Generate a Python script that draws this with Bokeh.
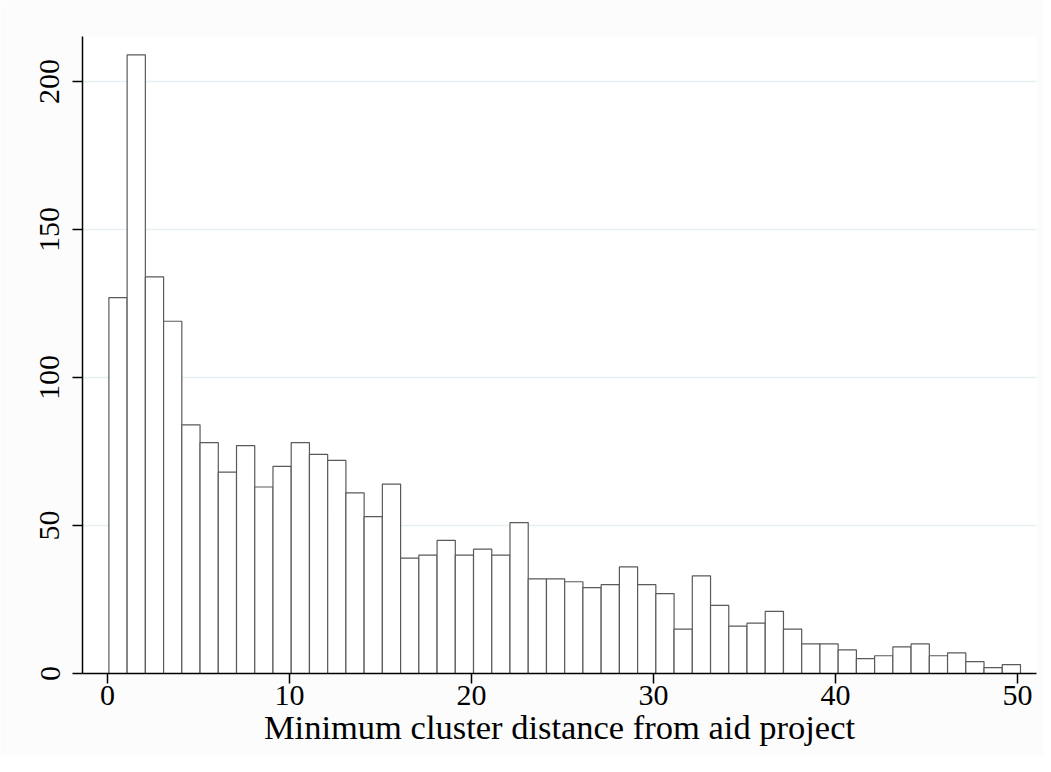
from bokeh.plotting import figure
from bokeh.models import Range1d, FixedTicker
from bokeh.embed import file_html
from bokeh.resources import INLINE

# Histogram counts (50 bins)
counts = [127, 209, 134, 119, 84, 78, 68, 77, 63, 70,
          78, 74, 72, 61, 53, 64, 39, 40, 45, 40,
          42, 40, 51, 32, 32, 31, 29, 30, 36, 30,
          27, 15, 33, 23, 16, 17, 21, 15, 10, 10,
          8, 5, 6, 9, 10, 6, 7, 4, 2, 3]
bin_start = 0.08
bin_width = 1.0016
x_ticks = [0, 10, 20, 30, 40, 50]
y_ticks = [0, 50, 100, 150, 200]
x_title = "Minimum cluster distance from aid project"

lefts = [bin_start + i * bin_width for i in range(len(counts))]
rights = [l + bin_width for l in lefts]
bottoms = [0] * len(counts)

FONT = "Liberation Serif"

p = figure(frame_width=954, frame_height=637,
           x_range=Range1d(-1.37, 51.04), y_range=Range1d(0, 215.2),
           output_backend="svg", toolbar_location=None,
           min_border_left=82, min_border_top=36, min_border_right=7, min_border_bottom=83)
p.background_fill_color = "white"
p.border_fill_color = "#FCFCFC"
p.outline_line_color = None

p.quad(left=lefts, right=rights, bottom=bottoms, top=counts,
       fill_color="white", line_color="#5a5a5a", line_width=1.2)

p.xgrid.visible = False
p.ygrid.ticker = FixedTicker(ticks=y_ticks[1:])
p.ygrid.grid_line_color = "#E6EFF1"
p.ygrid.grid_line_width = 1.5

p.xaxis.ticker = FixedTicker(ticks=x_ticks)
p.yaxis.ticker = FixedTicker(ticks=y_ticks)
for ax in (p.xaxis[0], p.yaxis[0]):
    ax.axis_line_color = "black"
    ax.axis_line_width = 1.5
    ax.major_tick_line_color = "black"
    ax.major_tick_line_width = 1.5
    ax.major_tick_out = 10
    ax.major_tick_in = 0
    ax.minor_tick_line_color = None
    ax.major_label_text_font = FONT
    ax.major_label_text_font_size = "30px"
    ax.major_label_text_color = "black"

p.yaxis.major_label_orientation = "vertical"
p.yaxis.major_label_standoff = 13
p.xaxis.major_label_standoff = 2

p.xaxis.axis_label = x_title
p.xaxis.axis_label_text_font = FONT
p.xaxis.axis_label_text_font_style = "normal"
p.xaxis.axis_label_text_font_size = "34.5px"
p.xaxis.axis_label_text_color = "black"
p.xaxis.axis_label_standoff = 0

open("out.html", "w").write(file_html(p, INLINE))
